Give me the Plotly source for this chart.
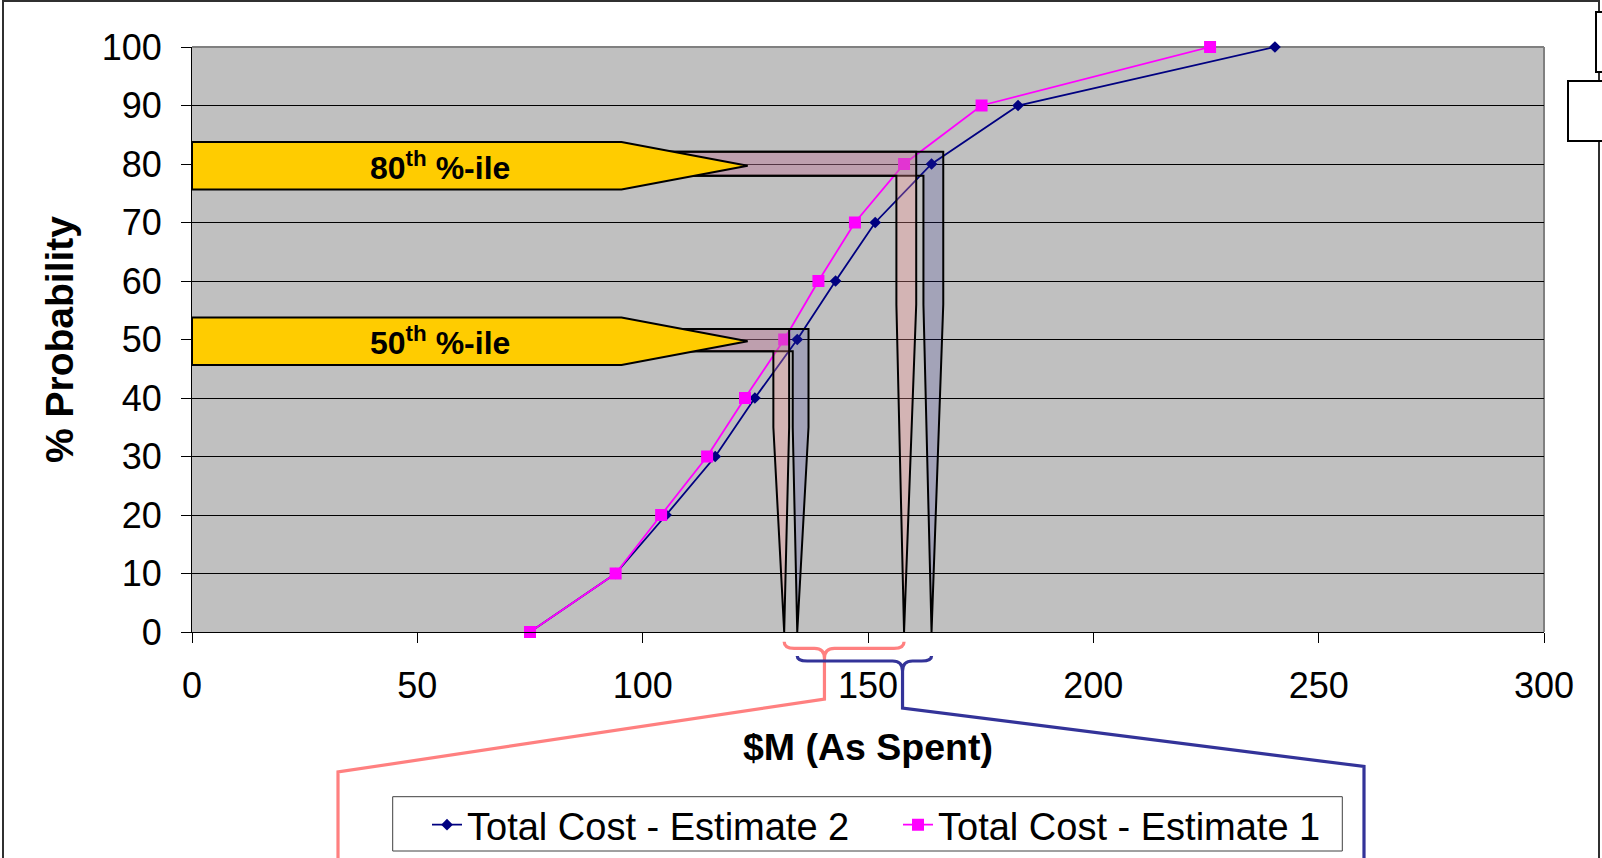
import plotly.graph_objects as go

# ---------------- data ----------------
probability = [0, 10, 20, 30, 40, 50, 60, 70, 80, 90, 100]
estimate2 = [75.0, 94.0, 105.2, 116.1, 124.9, 134.3, 142.8, 151.6, 164.1, 183.3, 240.3]
estimate1 = [75.0, 94.0, 104.1, 114.3, 122.7, 131.4, 139.0, 147.1, 158.0, 175.2, 225.9]
percentiles = [50, 80]
percentile_labels = ["50<sup>th</sup> %-ile", "80<sup>th</sup> %-ile"]
x_ticks = [0, 50, 100, 150, 200, 250, 300]
y_ticks = [0, 10, 20, 30, 40, 50, 60, 70, 80, 90, 100]
name2 = "Total Cost - Estimate 2"
name1 = "Total Cost - Estimate 1"

# ---------------- layout constants ----------------
FIG_W, FIG_H = 1602, 858
M_L, M_R, M_T, M_B = 192, 58, 47, 226
PW = FIG_W - M_L - M_R
PH = FIG_H - M_T - M_B
X_MAX, Y_MAX = 300, 100
FONT = "Liberation Sans, Arial, sans-serif"
NAVY = "#000080"
MAGENTA = "#FF00FF"
PINK_LINE = "#FF8080"
BLUE_LINE = "#333399"


def pxx(px):
    return (px - M_L) / PW


def pxy(py):
    return (M_T + PH - py) / PH


def val_px(v):
    return M_L + v / X_MAX * PW


fig = go.Figure()
fig.add_trace(go.Scatter(
    x=estimate2, y=probability, name=name2, mode="lines+markers",
    line=dict(color=NAVY, width=1.8),
    marker=dict(symbol="diamond", size=9, color=NAVY),
    cliponaxis=False))
fig.add_trace(go.Scatter(
    x=estimate1, y=probability, name=name1, mode="lines+markers",
    line=dict(color=MAGENTA, width=1.8),
    marker=dict(symbol="square", size=12, color=MAGENTA),
    cliponaxis=False))

shapes = []
annotations = []

# plot-area border (gray top/right)
shapes.append(dict(type="line", xref="paper", yref="paper", x0=0, x1=1, y0=1, y1=1,
                   line=dict(color="#808080", width=2), layer="between"))
shapes.append(dict(type="line", xref="paper", yref="paper", x0=1, x1=1, y0=0, y1=1,
                   line=dict(color="#808080", width=2), layer="between"))

# band styling per percentile
BAND = {
    50: dict(hw=1.75, off1=-0.65, off2=0.75, taper=35, yc=49.9, hh=1.9, ay=49.7),
    80: dict(hw=2.2, off1=0.5, off2=0.4, taper=56, yc=80.05, hh=2.05, ay=79.7),
}
ARROW_HH = 4.05
ARROW_BODY = 95.3
ARROW_TIP = 123.3
BAND_XL = 100

for p, lab in zip(percentiles, percentile_labels):
    i = probability.index(p)
    v1, v2 = estimate1[i], estimate2[i]
    b = BAND[p]
    yc, hh, hw, tp = b["yc"], b["hh"], b["hw"], b["taper"]
    c1, c2 = v1 + b["off1"], v2 + b["off2"]
    pl, pr = c1 - hw, c1 + hw
    bl, br = c2 - hw, c2 + hw
    blue_path = (f"M {BAND_XL},{yc+hh} L {br},{yc+hh} L {br},{tp} L {v2},0 "
                 f"L {bl},{tp} L {bl},{yc-hh} L {BAND_XL},{yc-hh} Z")
    pink_path = (f"M {BAND_XL},{yc+hh} L {pr},{yc+hh} L {pr},{tp} L {v1},0 "
                 f"L {pl},{tp} L {pl},{yc-hh} L {BAND_XL},{yc-hh} Z")
    shapes.append(dict(type="path", xref="x", yref="y", path=blue_path,
                       fillcolor="rgba(51,51,153,0.2)", line=dict(color="black", width=2),
                       layer="above"))
    shapes.append(dict(type="path", xref="x", yref="y", path=pink_path,
                       fillcolor="rgba(255,153,153,0.3)", line=dict(color="black", width=2),
                       layer="above"))
    ay = b["ay"]
    arrow = (f"M 0,{ay+ARROW_HH} L {ARROW_BODY},{ay+ARROW_HH} L {ARROW_TIP},{ay} "
             f"L {ARROW_BODY},{ay-ARROW_HH} L 0,{ay-ARROW_HH} Z")
    shapes.append(dict(type="path", xref="x", yref="y", path=arrow,
                       fillcolor="#FFCC00", line=dict(color="black", width=2),
                       layer="above"))
    annotations.append(dict(x=55, y=ay, xref="x", yref="y", text=lab, showarrow=False,
                            font=dict(family=FONT, size=32, color="black", weight="bold"),
                            xanchor="center", yanchor="middle"))


# braces under the x axis
def brace(v_lo, v_hi, frac, y_arm, y_bar, y_knee, corner, color):
    xl, xr = val_px(v_lo), val_px(v_hi)
    xp = xl + frac * (xr - xl)
    r = 10
    segs = [
        ("M", xl, y_arm), ("Q", xl, y_bar, xl + r, y_bar), ("L", xp - r, y_bar),
        ("Q", xp, y_bar, xp, y_bar + r),
        ("M", xr, y_arm), ("Q", xr, y_bar, xr - r, y_bar), ("L", xp + r, y_bar),
        ("Q", xp, y_bar, xp, y_bar + r),
        ("L", xp, y_knee), ("L", corner[0], corner[1]), ("L", corner[0], FIG_H + 20),
    ]
    out = []
    for s in segs:
        cmd, nums = s[0], s[1:]
        pts = []
        for k in range(0, len(nums), 2):
            pts.append(f"{pxx(nums[k]):.5f},{pxy(nums[k+1]):.5f}")
        out.append(cmd + " " + " ".join(pts))
    return dict(type="path", xref="paper", yref="paper", path=" ".join(out),
                line=dict(color=color, width=3.2), layer="above")


i50, i80 = probability.index(50), probability.index(80)
shapes.append(brace(estimate1[i50], estimate1[i80], 0.336, 641.7, 648.3, 699, (338, 772), PINK_LINE))
shapes.append(brace(estimate2[i50], estimate2[i80], 0.784, 656, 661, 708, (1364, 766.5), BLUE_LINE))

# legend box
shapes.append(dict(type="rect", xref="paper", yref="paper",
                   x0=pxx(392.7), x1=pxx(1342.3), y0=pxy(851), y1=pxy(796.7),
                   fillcolor="white", line=dict(color="#404040", width=1), layer="above"))

# outer chart border and cut-off boxes at the right
shapes.append(dict(type="rect", xref="paper", yref="paper",
                   x0=pxx(3), x1=pxx(1599), y0=pxy(FIG_H + 20), y1=pxy(1),
                   line=dict(color="#303030", width=2), layer="below"))
shapes.append(dict(type="rect", xref="paper", yref="paper",
                   x0=pxx(1596), x1=pxx(1615), y0=pxy(72), y1=pxy(12),
                   fillcolor="white", line=dict(color="black", width=2), layer="above"))
shapes.append(dict(type="rect", xref="paper", yref="paper",
                   x0=pxx(1568), x1=pxx(1615), y0=pxy(141), y1=pxy(81),
                   fillcolor="white", line=dict(color="black", width=2), layer="above"))

fig.update_layout(
    width=FIG_W, height=FIG_H,
    margin=dict(l=M_L, r=M_R, t=M_T, b=M_B, autoexpand=False),
    paper_bgcolor="white", plot_bgcolor="#C0C0C0",
    font=dict(family=FONT, color="black"),
    shapes=shapes, annotations=annotations,
    showlegend=True,
    legend=dict(orientation="h", x=pxx(427), y=pxy(825), xanchor="left", yanchor="middle",
                bgcolor="rgba(0,0,0,0)", borderwidth=0,
                font=dict(family=FONT, size=38, color="black"),
                entrywidth=426, entrywidthmode="pixels", traceorder="normal"),
    xaxis=dict(range=[0, X_MAX], tickvals=x_ticks, ticks="outside", ticklen=10,
               tickcolor="black", tickwidth=1, showline=True, linecolor="black",
               linewidth=1, showgrid=False, zeroline=False,
               tickfont=dict(family=FONT, size=36, color="black"),
               ticklabelstandoff=12,
               title=dict(text="$M (As Spent)", standoff=28,
                          font=dict(family=FONT, size=37.5, color="black", weight="bold"))),
    yaxis=dict(range=[0, Y_MAX], tickvals=y_ticks, ticks="outside", ticklen=10,
               tickcolor="black", tickwidth=1, showline=True, linecolor="black",
               linewidth=1, showgrid=True, gridcolor="black", gridwidth=1,
               zeroline=False,
               tickfont=dict(family=FONT, size=36, color="black"),
               ticklabelstandoff=12,
               title=dict(text="% Probability", standoff=16,
                          font=dict(family=FONT, size=39, color="black", weight="bold"))),
)

fig.write_html("out.html", config={"displayModeBar": False},
               post_script="document.body.style.margin='0';document.body.style.overflow='hidden';")
